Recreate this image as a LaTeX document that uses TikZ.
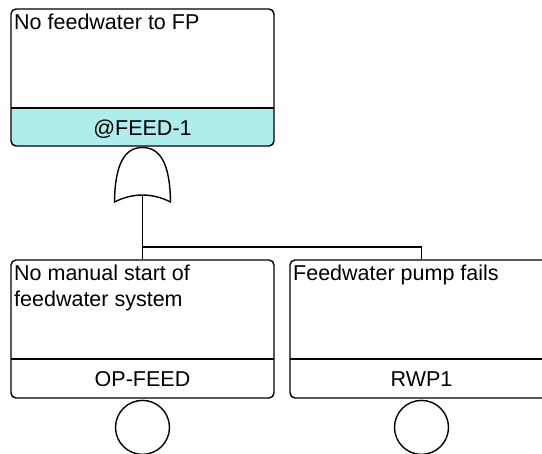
\documentclass[tikz,border=0pt]{standalone}
\usepackage{fontspec}
\newfontfamily\lbfont{Liberation Sans}
\definecolor{feedcyan}{RGB}{175,237,237}
\begin{document}
\begin{tikzpicture}[x=1pt,y=-1pt,
  evbox/.style={draw, line width=1.4pt, rounded corners=5pt, minimum width=263pt, minimum height=138pt, inner sep=0pt},
  lbl/.style={font=\lbfont\fontsize{21.5}{26}\selectfont, inner sep=0pt, align=left},
  wire/.style={line width=1.4pt},
  basic/.style={circle, draw, line width=1.4pt, minimum size=54pt, inner sep=0pt}]
\useasboundingbox (0,0) rectangle (542,454);
\clip (0,0) rectangle (542,454);
% top event
\begin{scope}
  \clip (0,108) rectangle (542,160);
  \fill[feedcyan, rounded corners=5pt] (11,9) rectangle (274,146);
\end{scope}
\node[evbox, minimum height=137pt] (topbox) at (142.5,77.5) {};
\draw[wire] (11,108) -- (274,108);
\node[lbl, anchor=base west] (toptxt) at (14,30) {No feedwater to FP};
\node[lbl, anchor=base] (topid) at (142.5,136) {@FEED-1};
% OR gate
\draw[wire] (114.5,202) .. controls (115,165) and (124,147.5) .. (142.5,147.5)
  .. controls (161,147.5) and (170,165) .. (170.5,202)
  .. controls (152,192.7) and (133,192.7) .. (114.5,202) -- cycle;
\coordinate (gin) at (142.5,195);
\coordinate (hj) at (142.5,247);
% basic events
\node[evbox] (lbox) at (142.5,329) {};
\draw[wire] (11,359) -- (274,359);
\node[lbl, anchor=north west] (ltxt) at (14,265) {No manual start of\\feedwater system};
\node[lbl, anchor=base] (lid) at (142.5,387) {OP-FEED};
\node[evbox] (rbox) at (421.5,329) {};
\draw[wire] (290,359) -- (553,359);
\node[lbl, anchor=base west] (rtxt) at (293,281) {Feedwater pump fails};
\node[lbl, anchor=base] (rid) at (421.5,387) {RWP1};
% connectors
\draw[wire] (gin) -- (lbox.north);
\draw[wire] (hj) -| (rbox.north);
% circles
\node[basic, anchor=north] (c1) at ([yshift=-1pt]lbox.south) {};
\node[basic, anchor=north] (c2) at ([yshift=-1pt]rbox.south) {};
\end{tikzpicture}
\end{document}
